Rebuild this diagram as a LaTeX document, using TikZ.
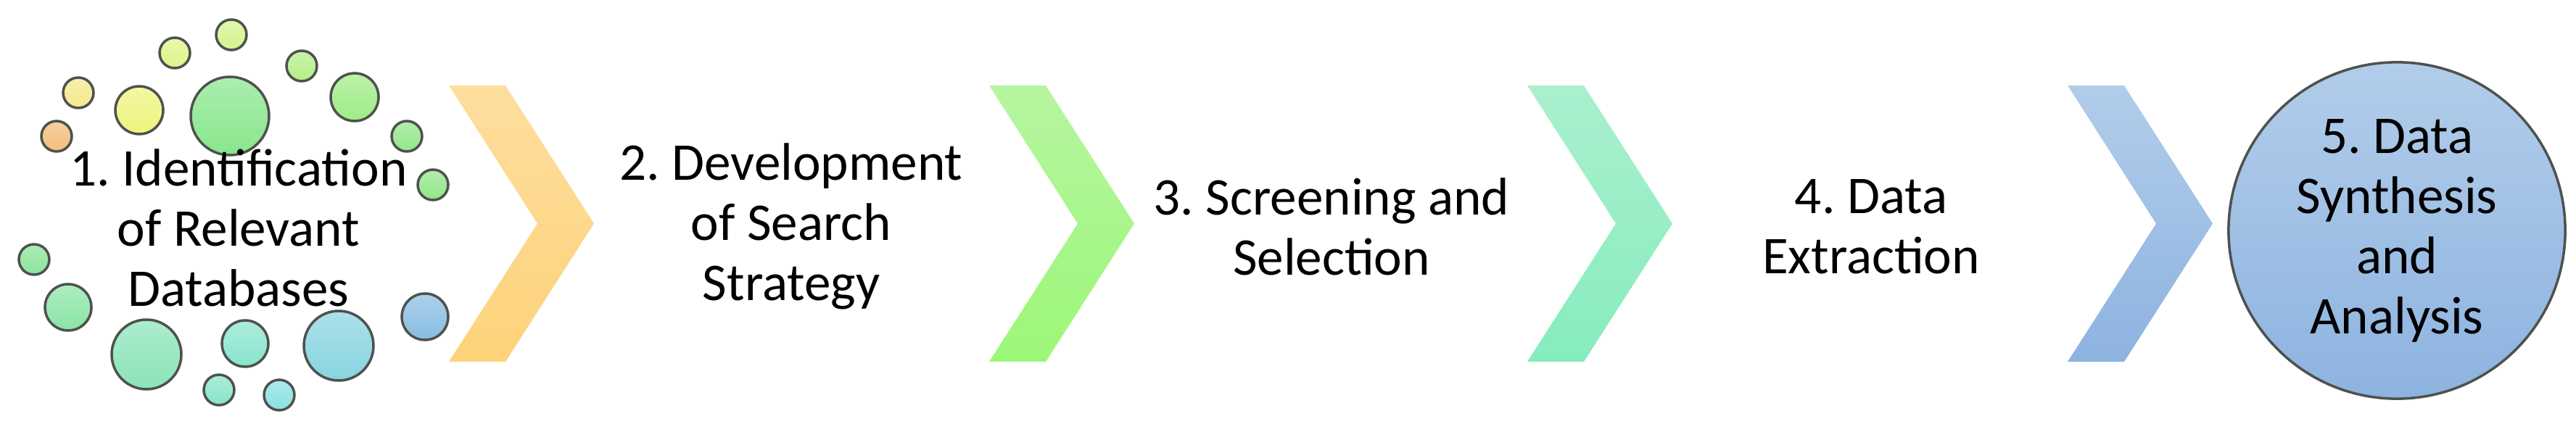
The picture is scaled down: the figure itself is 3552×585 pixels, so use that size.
\documentclass[tikz,border=0pt]{standalone}
\usepackage{fontspec}
\setmainfont{Carlito}
\usepackage{tikz}

\definecolor{bubline}{HTML}{4E524E}
\definecolor{bub1}{HTML}{D2F48C}
\definecolor{bub2}{HTML}{DEF58A}
\definecolor{bub3}{HTML}{B4EE88}
\definecolor{bub4}{HTML}{F4E88A}
\definecolor{bub5}{HTML}{EEF47C}
\definecolor{bub6}{HTML}{88E68C}
\definecolor{bub7}{HTML}{9EEC84}
\definecolor{bub8}{HTML}{F2BE7A}
\definecolor{bub9}{HTML}{92E68A}
\definecolor{bub10}{HTML}{90E688}
\definecolor{bub11}{HTML}{8AE49A}
\definecolor{bub12}{HTML}{8AE4A6}
\definecolor{bub13}{HTML}{8AE4B8}
\definecolor{bub14}{HTML}{88E4CE}
\definecolor{bub15}{HTML}{88D4E0}
\definecolor{bub16}{HTML}{88BCE2}
\definecolor{bub17}{HTML}{88E4C8}
\definecolor{bub18}{HTML}{8AE0E2}
\definecolor{chevAtop}{HTML}{FEDE9E}
\definecolor{chevAbot}{HTML}{FDD27A}
\definecolor{chevBtop}{HTML}{B6F5A0}
\definecolor{chevBbot}{HTML}{9CF778}
\definecolor{chevCtop}{HTML}{AAF0CE}
\definecolor{chevCbot}{HTML}{86ECBD}
\definecolor{chevDtop}{HTML}{B2CDEA}
\definecolor{chevDbot}{HTML}{8DB3E0}

\begin{document}
\frenchspacing
\begin{tikzpicture}[x=0.01cm,y=-0.01cm,
  lbl/.style={align=center,font=\fontsize{20.8}{23.6}\selectfont,inner sep=0pt},
  bubble/.style={draw=bubline,line width=1pt}]
\useasboundingbox (0,0) rectangle (3552,585);

% bubbles round the first step
\foreach \x/\y/\r/\c in {319/48/21/bub1, 241/73/21/bub2, 416/91/21/bub3, 108/128/21/bub4,
	192/152/33/bub5, 317/160/54/bub6, 489/134/33/bub7, 78/188/21/bub8,
	561/188/21/bub9, 597/255/21/bub10, 47/358/21/bub11, 94/424/32/bub12,
	202/489/48/bub13, 338/474/32/bub14, 467/477/48/bub15, 586/437/32/bub16,
	302/538/21/bub17, 385/545/21/bub18}{
	\shade[bubble, top color=\c!70!white, bottom color=\c] (\x,\y) circle (\r);
}

% chevrons
\foreach \L/\ct/\cb in {619/chevAtop/chevAbot, 1364/chevBtop/chevBbot,
	2106/chevCtop/chevCbot, 2851/chevDtop/chevDbot}{
	\shade[top color=\ct, bottom color=\cb] (\L,118) -- ++(78,0) -- ++(122,190.5)
		-- ++(-122,190.5) -- ++(-78,0) -- ++(122,-190.5) -- cycle;
}

\node[lbl] (s1) at (329,314) {1. Identification\\of Relevant\\Databases};
\node[lbl] (s2) at (1091,312) {2. Development\\of Search\\Strategy};
\node[lbl] (s3) at (1836,313) {3. Screening and\\Selection};
\node[lbl] (s4) at (2580,313) {4. Data\\Extraction};
\node[lbl, circle, minimum size=4.64cm, draw=bubline, line width=1pt,
	top color=chevDtop, bottom color=chevDbot] (s5) at (3305,318) {5. Data\\Synthesis\\and\\Analysis};
\end{tikzpicture}
\end{document}
